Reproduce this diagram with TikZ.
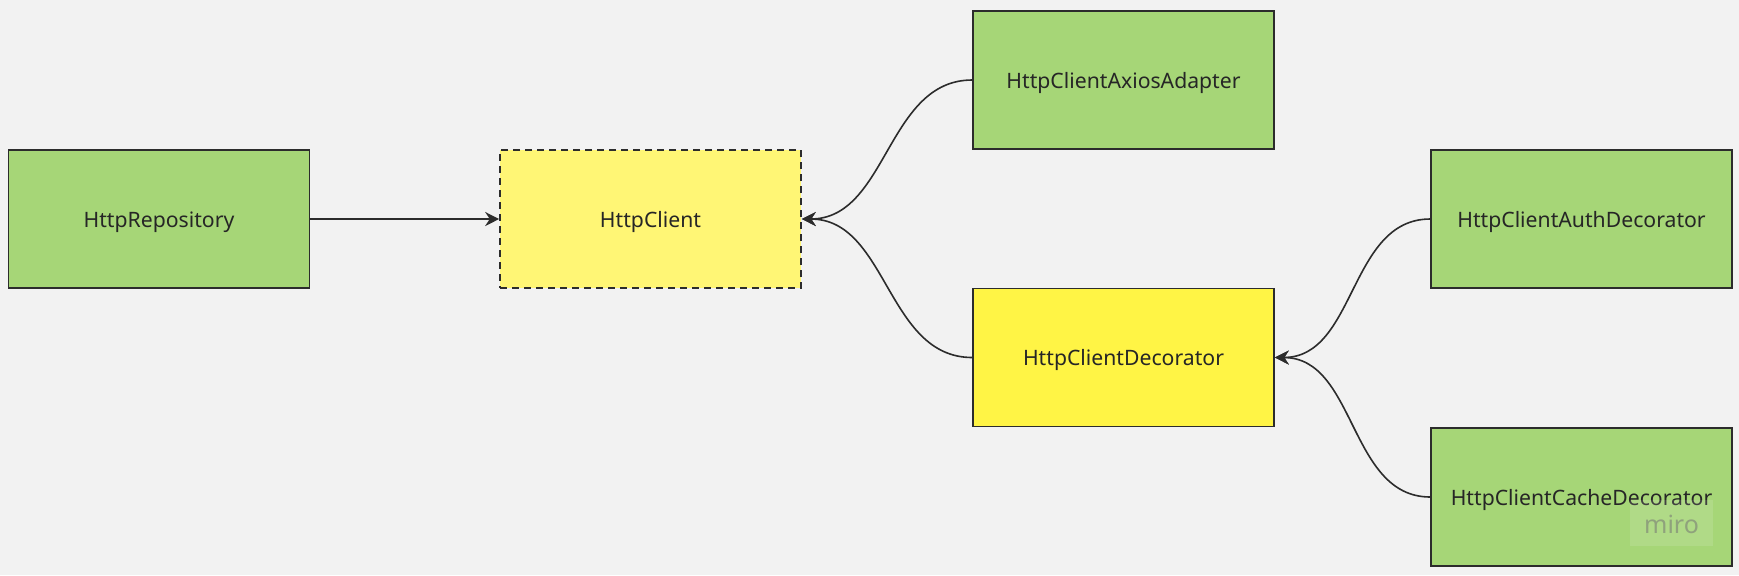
\documentclass[tikz,border=0pt]{standalone}
\usepackage{xcolor}
\usepackage{fontspec}
\setmainfont{Noto Sans}
\usetikzlibrary{arrows.meta}
\definecolor{bgray}{RGB}{242,242,242}
\definecolor{boxgreen}{RGB}{166,214,119}
\definecolor{paleyellow}{RGB}{255,246,117}
\definecolor{boxyellow}{RGB}{255,244,69}
\definecolor{edgedark}{RGB}{44,44,44}
\tikzset{
  classbox/.style={draw=edgedark, line width=0.8pt, minimum width=150.5pt, minimum height=69pt, inner sep=0pt, text height=9pt, text depth=1pt, font=\fontsize{10.6}{12}\selectfont, text=black!85},
  link/.style={draw=edgedark, line width=0.8pt, -{Stealth[length=7pt,width=7pt]}}
}

\begin{document}
\begin{tikzpicture}[x=0.5pt, y=-0.5pt]
        \fill[bgray] (0,0) rectangle (1739,575);
        \useasboundingbox (0,0) rectangle (1739,575);
        \node[classbox, fill=boxgreen] (repo) at (159,219) {HttpRepository};
        \node[classbox, fill=paleyellow, dash pattern=on 3.5pt off 2.5pt] (client) at (650.5,219) {HttpClient};
        \node[classbox, fill=boxgreen] (axios) at (1123.5,80) {HttpClientAxiosAdapter};
        \node[classbox, fill=boxyellow] (deco) at (1123.5,357.5) {HttpClientDecorator};
        \node[classbox, fill=boxgreen] (auth) at (1581.5,219) {HttpClientAuthDecorator};
        \node[classbox, fill=boxgreen] (cache) at (1581.5,497) {HttpClientCacheDecorator};
        % watermark
        \fill[white, opacity=0.12] (1630,500) rectangle (1713,546);
        \node[text=gray!60!boxgreen, font=\fontsize{12.5}{13}\selectfont\bfseries] (miro) at (1671.5,524) {miro};
        \draw[link] (repo.east) -- (client.west);
        \draw[link] (axios.west) to[out=180, in=0] (client.east);
        \draw[link] (deco.west) to[out=180, in=0] (client.east);
        \draw[link] (auth.west) to[out=180, in=0] (deco.east);
        \draw[link] (cache.west) to[out=180, in=0] (deco.east);
    \end{tikzpicture}
\end{document}
